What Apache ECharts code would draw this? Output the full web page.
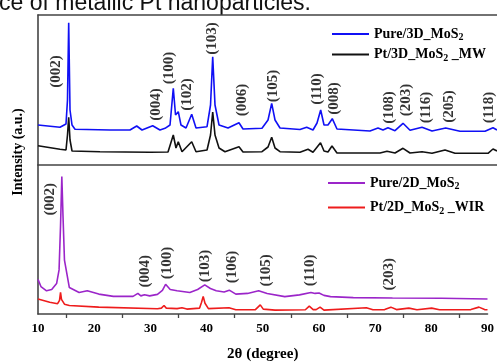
<!DOCTYPE html>
<html>
<head>
<meta charset="utf-8">
<script src="https://cdn.jsdelivr.net/npm/echarts@6/dist/echarts.min.js"></script>
<style>
  html, body { margin: 0; padding: 0; background: #fff; }
  #chart { width: 497px; height: 363px; }
</style>
</head>
<body>
<div id="chart"></div>
<script>
// 2theta (deg), intensity (a.u.)
const pure3d = [[10,40],[13.83,37.7],[14.88,41],[15.14,65],[15.35,142.3],[15.58,55],[15.93,40],[16.45,35.7],[22.55,35],[26.03,35],[27.2,39],[28.13,35],[29.99,39.3],[31.26,35],[32.14,36.7],[33.01,40],[33.58,76.7],[33.97,50],[34.45,53.3],[34.92,40],[35.8,37],[36.79,50.7],[37.54,37],[39.46,38.3],[40.07,60],[40.45,108.3],[40.85,60],[41.55,40],[43.12,37],[45.03,42.3],[45.73,36],[49.04,36.7],[50.09,45],[50.73,61.7],[51.31,45],[52.18,37],[55.66,35.5],[56.83,37.7],[57.93,35],[58.63,42],[59.27,55],[59.85,40],[60.54,40],[61.29,46.3],[62.11,36],[67.86,34],[69.26,37],[70.13,35],[71.0,37.3],[72.22,34.3],[73.62,41.7],[74.84,34.7],[76.93,37.7],[78.67,34],[81.06,37],[83.55,33.7],[87.91,33.7],[89.3,37.3],[90,35]]
const pt3d = [[10,19.3],[13.83,15.7],[14.88,15],[15.14,30],[15.35,47.7],[15.58,25],[15.93,14],[20.81,13.3],[29.52,12.7],[32.66,13],[33.58,30],[34.05,17],[34.45,23.3],[35.1,13.3],[36.79,23.3],[37.54,13.3],[39.46,15],[40.07,30],[40.45,53],[40.85,30],[41.55,17],[42.59,13.3],[45.03,18.3],[45.73,13],[49.04,13.3],[50.09,18],[50.73,27.7],[51.31,17],[52.18,13.3],[55.66,12.7],[57.06,15.7],[57.93,12.7],[59.24,22.3],[59.85,14],[60.54,13],[61.24,19],[62.11,12],[69.61,12],[70.83,13.7],[72.22,12],[73.62,16.7],[74.84,12],[76.93,13.3],[78.67,11.7],[80.94,15],[82.68,11.7],[88.43,11.7],[89.3,16],[90,14]]
const pure2d = [[10,35.3],[10.52,28],[11.52,23.7],[12.44,25],[13.31,31],[13.75,45],[14.01,90],[14.24,140.3],[14.45,100],[14.71,55],[15.58,27],[17.32,22],[18.77,23.7],[20.81,20.3],[23.42,18],[26.91,18],[27.78,21],[28.3,18.5],[28.95,19.7],[29.87,18.5],[31.26,20],[32.14,24],[32.71,30.3],[33.53,25],[34.75,23.7],[37.02,22],[38.41,25],[39.68,29.7],[40.68,26],[41.72,23.7],[43.12,22.5],[44.04,24.3],[45.21,20.3],[47.3,21],[49.27,23.7],[50.78,21],[53.92,17.7],[56.54,19.5],[58.57,22],[59.32,21],[60.02,21.5],[60.89,19],[62.06,17.7],[66.12,16.7],[73.09,16.3],[81.81,16],[90,15.3]]
const pt2d = [[10,15.3],[12.09,12],[13.49,10.5],[13.83,14],[14.01,22],[14.18,15],[14.71,10],[15.58,8.7],[20.81,7],[31.26,5.3],[31.96,6],[32.43,8.7],[32.83,6],[34.75,5.5],[35.62,6.3],[36.49,5],[38.76,6],[39.11,12],[39.4,18],[39.72,11],[40.33,5.5],[43.99,6.3],[45.21,4.3],[48.69,4.5],[49.56,9.3],[50.09,5],[52.18,4],[57.58,4.3],[58.28,8],[58.97,4.5],[59.5,4.5],[60.2,7],[60.89,4],[68.44,6.3],[69.61,4.3],[71.7,4.5],[72.8,7],[73.79,4.5],[76,6],[77.45,4.3],[80.07,6],[81.46,4.3],[87.04,4.5],[88.48,7],[89.48,4.5],[90,4.3]]

// peak indexing labels and where they sit
const planes3d = ['(002)','(004)','(100)','(102)','(103)','(006)','(105)','(110)','(008)','(108)','(203)','(116)','(205)','(118)']
const planes3dAt = [[13.14,93.5],[30.57,60.5],[32.83,97],[36.06,70.5],[40.41,126.5],[45.64,65],[51.05,79],[58.63,76],[61.59,66.5],[71.18,57.5],[74.14,65],[77.63,57.5],[81.63,58.5],[88.61,57.5]]
const planes2d = ['(002)','(004)','(100)','(103)','(106)','(105)','(110)','(203)']
const planes2dAt = [[12.09,117],[29.08,43.5],[33.01,52],[39.8,49],[44.51,48],[50.61,44.5],[58.45,44.5],[72.49,40.5]]

const tickLabels = [10, 20, 30, 40, 50, 60, 70, 80, 90]
const tickMarks = [15, 25, 35, 45, 55, 65, 75, 85]

const serif = 'Liberation Serif'
const frame = { show: true, lineStyle: { color: '#444', width: 1.6 } }

const chart = echarts.init(document.getElementById('chart'))

const peakLabels = (names, at, xi, yi) => ({
  type: 'scatter',
  xAxisIndex: xi,
  yAxisIndex: yi,
  symbolSize: 1,
  silent: true,
  itemStyle: { color: 'rgba(0,0,0,0)' },
  data: at.map((p, i) => [p[0], p[1], names[i]]),
  label: {
    show: true,
    position: 'inside',
    rotate: 90,
    formatter: (p) => p.data[2],
    fontFamily: serif,
    fontWeight: 'bold',
    fontSize: 15,
    color: '#000'
  },
  z: 5
})

const line = (name, data, color, xi, yi) => ({
  name,
  type: 'line',
  xAxisIndex: xi,
  yAxisIndex: yi,
  data,
  showSymbol: false,
  symbol: 'none',
  silent: true,
  lineStyle: { color, width: 1.6 },
  itemStyle: { color }
})

const legendBase = {
  orient: 'vertical',
  icon: 'rect',
  itemWidth: 37,
  itemHeight: 2,
  formatter: (name) => name.replace('MoS2', 'MoS{s|2}'),
  textStyle: {
    fontFamily: serif,
    fontWeight: 'bold',
    fontSize: 14,
    color: '#000',
    rich: { s: { fontFamily: serif, fontWeight: 'bold', fontSize: 10, padding: [7, 0, 0, 0] } }
  }
}

chart.setOption({
  animation: false,
  backgroundColor: '#fff',
  grid: [
    { left: 38, right: 0, top: 15, height: 150 },
    { left: 38, right: 0, top: 165, bottom: 46 }
  ],
  xAxis: [
    { type: 'value', gridIndex: 0, min: 10, max: 90, interval: 10, axisLine: frame,
      axisTick: { show: false }, axisLabel: { show: false }, splitLine: { show: false } },
    { type: 'value', gridIndex: 0, position: 'top', min: 10, max: 90, interval: 10, axisLine: frame,
      axisTick: { show: false }, axisLabel: { show: false }, splitLine: { show: false } },
    { type: 'value', gridIndex: 1, min: 10, max: 90, interval: 10, axisLine: frame,
      axisTick: { show: true, customValues: tickMarks, length: 4, lineStyle: { color: '#444', width: 1.3 } },
      axisLabel: { customValues: tickLabels, fontFamily: serif, fontWeight: 'bold', fontSize: 13, color: '#000', margin: 8 },
      splitLine: { show: false },
      name: '2θ (degree)', nameLocation: 'middle', nameGap: 33,
      nameTextStyle: { fontFamily: serif, fontWeight: 'bold', fontSize: 15, color: '#000' } }
  ],
  yAxis: [
    { type: 'value', gridIndex: 0, min: 0, max: 150, axisLine: frame,
      axisTick: { show: false }, axisLabel: { show: false }, splitLine: { show: false } },
    { type: 'value', gridIndex: 1, min: 0, max: 152, axisLine: frame,
      axisTick: { show: false }, axisLabel: { show: false }, splitLine: { show: false } }
  ],
  legend: [
    Object.assign({}, legendBase, { left: 327, top: 22, itemGap: 5, data: ['Pure/3D_MoS2', 'Pt/3D_MoS2 _MW'] }),
    Object.assign({}, legendBase, { left: 323, top: 171, itemGap: 9, data: ['Pure/2D_MoS2', 'Pt/2D_MoS2 _WIR'] })
  ],
  graphic: [
    { type: 'text', x: -1, y: 4, silent: true,
      style: { text: 'ce of metallic Pt nanoparticles.', font: '23px "Liberation Sans"', fill: '#111', verticalAlign: 'middle' } },
    { type: 'text', x: 18, y: 152, rotation: Math.PI / 2, silent: true,
      style: { text: 'Intensity (a.u.)', font: 'bold 14px "Liberation Serif"', fill: '#000', align: 'center', verticalAlign: 'middle' } }
  ],
  series: [
    line('Pt/3D_MoS2 _MW', pt3d, '#111111', 0, 0),
    line('Pure/3D_MoS2', pure3d, '#1010f5', 0, 0),
    line('Pt/2D_MoS2 _WIR', pt2d, '#ee1c1c', 2, 1),
    line('Pure/2D_MoS2', pure2d, '#9b25c9', 2, 1),
    peakLabels(planes3d, planes3dAt, 0, 0),
    peakLabels(planes2d, planes2dAt, 2, 1)
  ]
})
</script>
</body>
</html>
